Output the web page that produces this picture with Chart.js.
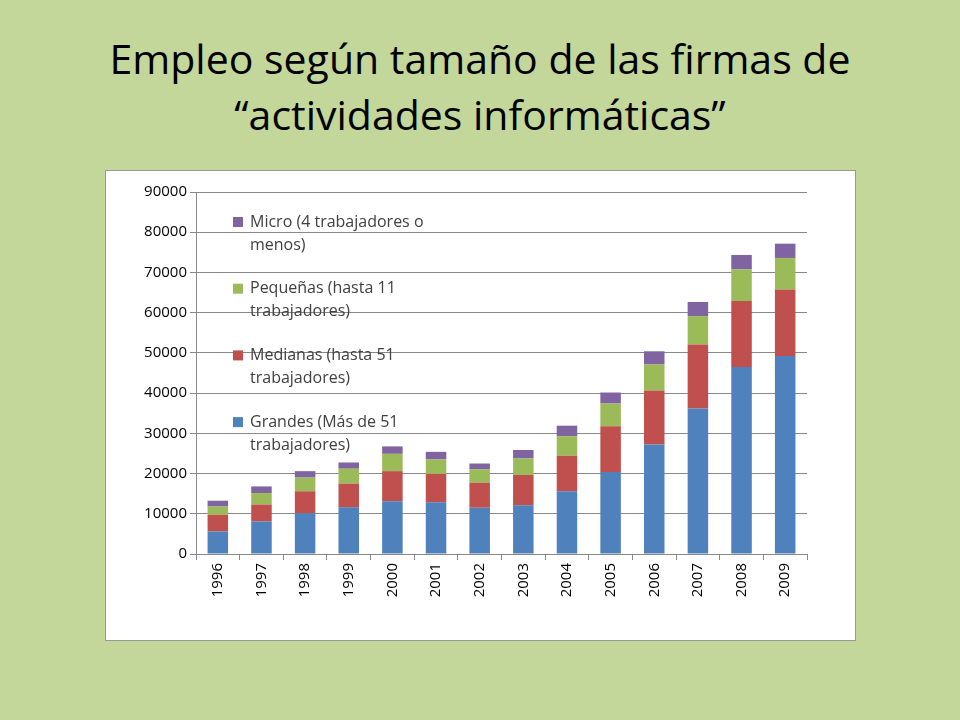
<!DOCTYPE html>
<html>
<head>
<meta charset="utf-8">
<script src="https://cdn.jsdelivr.net/npm/chart.js@4/dist/chart.umd.min.js"></script>
<style>
  body { margin: 0; width: 960px; height: 720px; background: #c4d79b; position: relative; overflow: hidden; font-family: "Open Sans", "Noto Sans", sans-serif; }
  h1 { position: absolute; top: 30px; left: 0; width: 960px; margin: 0; text-align: center; font-weight: normal; font-size: 41px; line-height: 56px; color: #000; }
  #box { position: absolute; left: 105px; top: 170px; width: 751px; height: 471px; background: #fff; border: 1px solid #999; box-sizing: border-box; }
  #chart { display: block; }
</style>
</head>
<body>
<h1>Empleo según tamaño de las firmas de<br>“actividades informáticas”</h1>
<div id="box"><canvas id="chart" width="749" height="469"></canvas></div>
<script>
// valores
const years = ['1996', '1997', '1998', '1999', '2000', '2001', '2002', '2003', '2004', '2005', '2006', '2007', '2008', '2009'];
const grandes = [5600, 8100, 10150, 11600, 13100, 12850, 11500, 12100, 15600, 20400, 27250, 36150, 46500, 49250];
const medianas = [4150, 4200, 5450, 5900, 7500, 7050, 6250, 7550, 8800, 11350, 13400, 15950, 16400, 16500];
const pequenas = [2050, 2850, 3400, 3700, 4300, 3600, 3350, 4100, 4900, 5650, 6450, 7050, 7850, 7850];
const micro = [1450, 1650, 1600, 1550, 1850, 1900, 1400, 2100, 2600, 2750, 3300, 3500, 3600, 3550];

const seriesNames = [
    ['Grandes (Más de 51', 'trabajadores)'],
    ['Medianas (hasta 51', 'trabajadores)'],
    ['Pequeñas (hasta 11', 'trabajadores)'],
    ['Micro (4 trabajadores o', 'menos)']
];
const colors = ['#4f81bd', '#c0504d', '#9bbb59', '#8064a2'];
const values = [grandes, medianas, pequenas, micro];

// leyenda dentro del área del gráfico, arriba a la izquierda
const insideLegend = {
    id: 'insideLegend',
    afterDraw(chart) {
        const ctx = chart.ctx;
        const x0 = chart.chartArea.left + 37;
        let y = chart.chartArea.top + 30;
        ctx.save();
        ctx.font = '16px "Open Sans", sans-serif';
        ctx.textBaseline = 'middle';
        for (let i = chart.data.datasets.length - 1; i >= 0; i--) {
            let ds = chart.data.datasets[i];
            ctx.fillStyle = ds.backgroundColor;
            ctx.fillRect(x0, y - 5, 10, 10);
            ctx.fillStyle = '#404040';
            ctx.fillText(ds.label[0], x0 + 17, y);
            ctx.fillText(ds.label[1], x0 + 17, y + 23);
            y += 66.7;
        }
        ctx.restore();
    }
};

new Chart(document.getElementById('chart'), {
    type: 'bar',
    data: {
        labels: years,
        datasets: values.map((v, i) => ({
            label: seriesNames[i],
            data: v,
            backgroundColor: colors[i],
            barPercentage: 0.47,
            categoryPercentage: 1
        }))
    },
    options: {
        responsive: false,
        animation: false,
        devicePixelRatio: 1,
        layout: { padding: { top: 21, right: 48, bottom: 0, left: 0 } },
        plugins: { legend: { display: false }, tooltip: { enabled: false } },
        scales: {
            x: {
                stacked: true,
                grid: { display: true, drawOnChartArea: false, color: '#888', tickLength: 6, offset: true },
                border: { color: '#888' },
                ticks: { color: '#000', autoSkip: false, font: { size: 15, family: 'Open Sans' }, maxRotation: 90, minRotation: 90 },
                afterFit(s) { s.height = 86; }
            },
            y: {
                stacked: true,
                min: 0, max: 90000,
                grid: { color: '#888', tickLength: 6 },
                border: { color: '#888' },
                ticks: { stepSize: 10000, color: '#000', font: { size: 15, family: 'Open Sans' }, callback: v => String(v) },
                afterFit(s) { s.width = 90; }
            }
        }
    },
    plugins: [insideLegend]
});
</script>
</body>
</html>
